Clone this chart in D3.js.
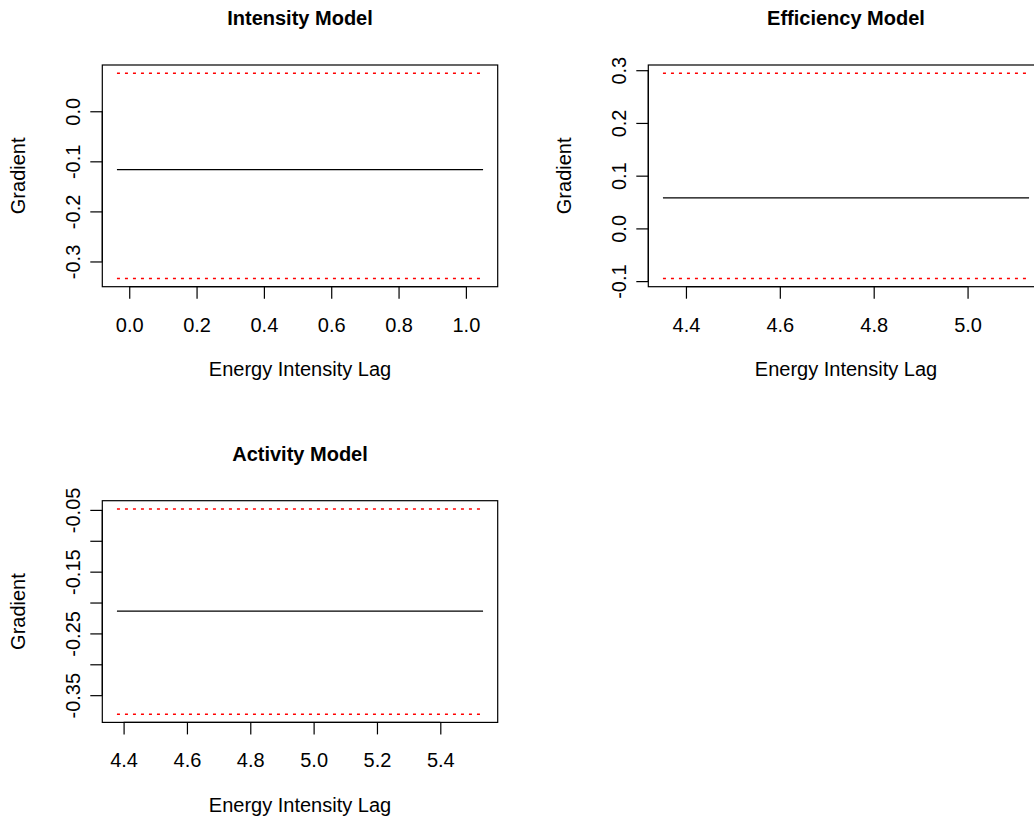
<!DOCTYPE html>
<html>
<head>
<meta charset="utf-8">
<script src="https://cdn.jsdelivr.net/npm/d3@7"></script>
<style>
  html, body { margin: 0; padding: 0; background: #ffffff; }
  svg { display: block; font-family: "Liberation Sans", Arial, Helvetica, sans-serif; }
</style>
</head>
<body>
<svg id="chart" width="1034" height="818"></svg>
<script>
// ---- data ----
const panelTitles = ["Intensity Model", "Efficiency Model", "Activity Model"];
const xLabel = "Energy Intensity Lag";
const yLabel = "Gradient";

// x extent of each fitted gradient line
const intensityX  = [-0.0365, 1.051];
const efficiencyX = [4.351, 5.131];
const activityX   = [4.379, 5.535];

// gradient estimate (black line) per panel
const gradientValues = [-0.1166, 0.0577, -0.214];
// lower / upper confidence bounds (red dotted)
const lowerBounds = [-0.334, -0.095, -0.3808];
const upperBounds = [0.076, 0.2943, -0.0484];

// axis ticks
const intensityXTicks  = [0.0, 0.2, 0.4, 0.6, 0.8, 1.0];
const efficiencyXTicks = [4.4, 4.6, 4.8, 5.0, 5.2];
const activityXTicks   = [4.4, 4.6, 4.8, 5.0, 5.2, 5.4];
const intensityYTicks  = [-0.3, -0.2, -0.1, 0.0];
const efficiencyYTicks = [-0.1, 0.0, 0.1, 0.2, 0.3];
const activityYTicks   = [-0.35, -0.30, -0.25, -0.20, -0.15, -0.10, -0.05];
const activityYLabelled = [-0.35, -0.25, -0.15, -0.05];

// ---- layout ----
const svg = d3.select("#chart");
const colOffset = [0, 546];
const rowOffset = [0, 435.7];
const box = { left: 102.3, top: 65, width: 395.4, height: 221.7 };
const fs = 20, titleFs = 20, tickLen = 12;

const panels = [
  { title: panelTitles[0], col: 0, row: 0, xr: intensityX, xt: intensityXTicks, yt: intensityYTicks,
    ylab: intensityYTicks, xfmt: d3.format(".1f"), yfmt: d3.format(".1f") },
  { title: panelTitles[1], col: 1, row: 0, xr: efficiencyX, xt: efficiencyXTicks, yt: efficiencyYTicks,
    ylab: efficiencyYTicks, xfmt: d3.format(".1f"), yfmt: d3.format(".1f") },
  { title: panelTitles[2], col: 0, row: 1, xr: activityX, xt: activityXTicks, yt: activityYTicks,
    ylab: activityYLabelled, xfmt: d3.format(".1f"), yfmt: d3.format(".2f") }
];

function rFormat(fmt, v) {
  return fmt(v).replace("\u2212", "-");
}

panels.forEach((p, i) => {
  const g = svg.append("g")
    .attr("transform", `translate(${colOffset[p.col] + box.left},${rowOffset[p.row] + box.top})`);

  // R-style 4% padded domains
  const xPad = (p.xr[1] - p.xr[0]) * 0.04;
  const yLo = lowerBounds[i], yHi = upperBounds[i];
  const yPad = (yHi - yLo) * 0.04;
  const x = d3.scaleLinear().domain([p.xr[0] - xPad, p.xr[1] + xPad]).range([0, box.width]);
  const y = d3.scaleLinear().domain([yLo - yPad, yHi + yPad]).range([box.height, 0]);

  // title
  g.append("text")
    .attr("x", box.width / 2).attr("y", 25 - box.top)
    .attr("text-anchor", "middle")
    .attr("font-size", titleFs).attr("font-weight", "bold")
    .text(p.title);

  // lines
  const line = d3.line().x(d => x(d[0])).y(d => y(d[1]));
  const seg = v => [[p.xr[0], v], [p.xr[1], v]];
  g.append("path").attr("d", line(seg(upperBounds[i])))
    .attr("fill", "none").attr("stroke", "#ff0000").attr("stroke-width", 1.5)
    .attr("stroke-dasharray", "3,5");
  g.append("path").attr("d", line(seg(lowerBounds[i])))
    .attr("fill", "none").attr("stroke", "#ff0000").attr("stroke-width", 1.5)
    .attr("stroke-dasharray", "3,5");
  g.append("path").attr("d", line(seg(gradientValues[i])))
    .attr("fill", "none").attr("stroke", "#000").attr("stroke-width", 1.2);

  // box
  g.append("rect").attr("x", 0).attr("y", 0)
    .attr("width", box.width).attr("height", box.height)
    .attr("fill", "none").attr("stroke", "#000").attr("stroke-width", 1.2);

  // x axis
  const xt = p.xt.filter(t => x(t) >= -0.5 && x(t) <= box.width + 0.5);
  const xAxis = d3.axisBottom(x).tickValues(xt).tickSize(tickLen).tickPadding(0)
    .tickFormat(d => rFormat(p.xfmt, d));
  const xa = g.append("g").attr("transform", `translate(0,${box.height})`).call(xAxis);
  xa.select(".domain").attr("d", `M${x(xt[0])},0H${x(xt[xt.length - 1])}`)
    .attr("stroke", "#000").attr("stroke-width", 1.2);
  xa.selectAll(".tick line").attr("stroke", "#000").attr("stroke-width", 1.2);
  xa.selectAll(".tick text").attr("font-size", fs).attr("font-family", null)
    .attr("fill", "#000").attr("dy", null).attr("y", 331.7 - 65 - box.height);

  // y axis
  const yAxis = d3.axisLeft(y).tickValues(p.yt).tickSize(tickLen).tickPadding(0)
    .tickFormat(d => p.ylab.some(v => Math.abs(v - d) < 1e-9) ? rFormat(p.yfmt, d) : "");
  const ya = g.append("g").call(yAxis);
  ya.select(".domain").attr("d", `M0,${y(p.yt[0])}V${y(p.yt[p.yt.length - 1])}`)
    .attr("stroke", "#000").attr("stroke-width", 1.2);
  ya.selectAll(".tick line").attr("stroke", "#000").attr("stroke-width", 1.2);
  ya.selectAll(".tick text").attr("font-size", fs).attr("font-family", null)
    .attr("fill", "#000")
    .attr("x", null).attr("dy", null)
    .attr("text-anchor", "middle")
    .attr("transform", `translate(${80 - box.left},0) rotate(-90)`);

  // axis titles
  g.append("text")
    .attr("x", box.width / 2).attr("y", 376 - box.top)
    .attr("text-anchor", "middle").attr("font-size", fs)
    .text(xLabel);
  g.append("text")
    .attr("transform", `translate(${25 - box.left},${box.height / 2}) rotate(-90)`)
    .attr("text-anchor", "middle").attr("font-size", fs)
    .text(yLabel);
});
</script>
</body>
</html>
